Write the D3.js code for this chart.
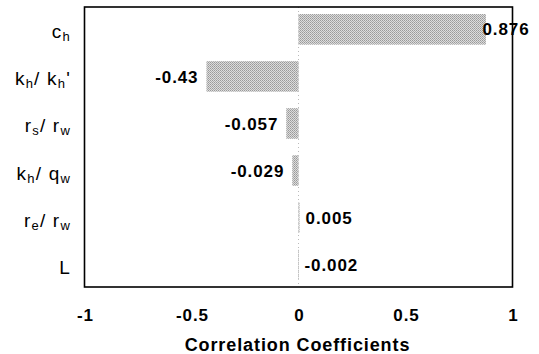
<!DOCTYPE html>
<html>
<head>
<meta charset="utf-8">
<script src="https://cdn.jsdelivr.net/npm/d3@7"></script>
<style>
body { margin: 0; background: #fff; }
svg { display: block; font-family: Arial, 'Liberation Sans', sans-serif; }
</style>
</head>
<body>
<script>
// categories, main symbol + subscript parts
var categories = ['ch', 'kh/kh\'', 'rs/rw', 'kh/qw', 're/rw', 'L']
var labelParts = [
	[['c', ''], ['h', 'sub']],
	[['k', ''], ['h', 'sub'], ['/ k', ''], ['h', 'sub'], ['\'', '']],
	[['r', ''], ['s', 'sub'], ['/ r', ''], ['w', 'sub']],
	[['k', ''], ['h', 'sub'], ['/ q', ''], ['w', 'sub']],
	[['r', ''], ['e', 'sub'], ['/ r', ''], ['w', 'sub']],
	[['L', '']]
]
var values = [0.876, -0.43, -0.057, -0.029, 0.005, -0.002]
var valueLabels = ['0.876', '-0.43', '-0.057', '-0.029', '0.005', '-0.002']
var xTicks = [-1, -0.5, 0, 0.5, 1]
var xTickLabels = ['-1', '-0.5', '0', '0.5', '1']

var W = 539, H = 354
var plotLeft = 84.5, plotRight = 512.5, plotTop = 7, plotBottom = 287

var svg = d3.select('body').append('svg')
	.attr('width', W)
	.attr('height', H)

// halftone grey fill
var defs = svg.append('defs')
var pat = defs.append('pattern')
	.attr('id', 'halftone')
	.attr('patternUnits', 'userSpaceOnUse')
	.attr('width', 2).attr('height', 2)
pat.append('rect').attr('width', 2).attr('height', 2).style('fill', '#dcdcdc')
pat.append('rect').attr('width', 1).attr('height', 1).style('fill', '#999')
pat.append('rect').attr('x', 1).attr('y', 1).attr('width', 1).attr('height', 1).style('fill', '#aaa')

var x = d3.scaleLinear().domain([-1, 1]).range([plotLeft, plotRight])
var y = d3.scaleBand().domain(categories).range([plotTop, plotBottom])
	.paddingInner(0.35).paddingOuter(0.15)

// faint zero line
svg.append('line')
	.attr('x1', x(0)).attr('x2', x(0))
	.attr('y1', plotTop).attr('y2', plotBottom)
	.style('stroke', '#bbb')
	.style('stroke-dasharray', '1,3')

svg.selectAll('.bar').data(values).enter().append('rect')
	.attr('class', 'bar')
	.attr('x', function(d){ return x(Math.min(0, d)) })
	.attr('y', function(d, i){ return y(categories[i]) })
	.attr('width', function(d){ return Math.max(Math.abs(x(d) - x(0)), 0.6) })
	.attr('height', y.bandwidth())
	.style('fill', 'url(#halftone)')

// plot box
svg.append('rect')
	.attr('x', plotLeft).attr('y', plotTop)
	.attr('width', plotRight - plotLeft).attr('height', plotBottom - plotTop)
	.style('fill', 'none')
	.style('stroke', '#000')
	.style('stroke-width', 1.6)

// value labels
function outside(d){ return d > 0 || Math.abs(d) < 0.01 }

svg.selectAll('.vlabel').data(values).enter().append('text')
	.attr('class', 'vlabel')
	.attr('x', function(d){
		if (outside(d)) return Math.min(x(Math.max(d, 0)) + 6, x(1) - 30)
		return x(d) - 8
	})
	.attr('y', function(d, i){ return y(categories[i]) + y.bandwidth() / 2 })
	.attr('dy', '0.36em')
	.attr('text-anchor', function(d){ return outside(d) ? 'start' : 'end' })
	.style('font-size', '17px')
	.style('font-weight', 'bold')
	.style('letter-spacing', '0.9px')
	.text(function(d, i){ return valueLabels[i] })

// category labels with subscripts
categories.forEach(function(c, i){
	var t = svg.append('text')
		.attr('x', 71)
		.attr('y', y(c) + y.bandwidth() / 2 + 9)
		.attr('text-anchor', 'end')
		.style('font-size', '19px')
		.style('letter-spacing', '1.2px')
	var prevSub = false
	labelParts[i].forEach(function(p){
		var isSub = p[1] == 'sub'
		var s = t.append('tspan').text(p[0])
			.attr('dy', isSub ? 3 : (prevSub ? -3 : 0))
		if (isSub) s.style('font-size', '13px')
		prevSub = isSub
	})
})

// x tick labels
svg.selectAll('.tick').data(xTicks).enter().append('text')
	.attr('class', 'tick')
	.attr('x', function(d){ return x(d) + 1 })
	.attr('y', 321)
	.attr('text-anchor', 'middle')
	.style('font-size', '17px')
	.style('font-weight', 'bold')
	.style('letter-spacing', '0.9px')
	.text(function(d, i){ return xTickLabels[i] })

svg.append('text')
	.attr('x', x(0) - 1)
	.attr('y', 351)
	.attr('text-anchor', 'middle')
	.style('font-size', '18px')
	.style('font-weight', 'bold')
	.style('letter-spacing', '0.9px')
	.text('Correlation Coefficients')
</script>
</body>
</html>
